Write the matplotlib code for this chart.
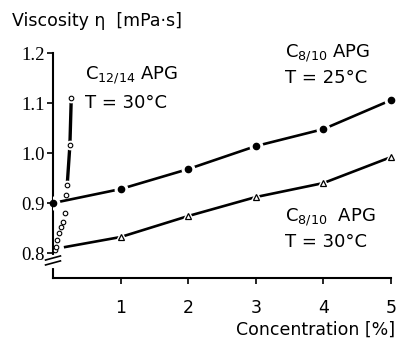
"""
Viskosität von APG-Lösungen in Abhängigkeit von der Konzentration
"""

import matplotlib.pyplot as plt

plt.rcParams['font.family'] = ['DejaVu Sans']
plt.rcParams['mathtext.fontset'] = 'dejavusans'

# C8/10 APG bei 25 °C (gefüllte Kreise)
konz_25 = [0, 1, 2, 3, 4, 5]
visk_25 = [0.900, 0.928, 0.968, 1.014, 1.048, 1.106]

# C8/10 APG bei 30 °C (offene Dreiecke), Kurve beginnt kurz nach 0
konz_30 = [1, 2, 3, 4, 5]
visk_30 = [0.832, 0.874, 0.912, 0.940, 0.992]
start_30 = (0.18, 0.812)

# C12/14 APG bei 30 °C (offene Kreise), sehr steiler Anstieg
konz_1214 = [0.03, 0.045, 0.06, 0.09, 0.12, 0.15, 0.18, 0.19, 0.21, 0.25, 0.27]
visk_1214 = [0.806, 0.812, 0.826, 0.840, 0.852, 0.862, 0.880, 0.916, 0.936, 1.016, 1.110]

x_ticks = [1, 2, 3, 4, 5]
y_ticks = [0.8, 0.9, 1.0, 1.1, 1.2]

fig = plt.figure(figsize=(4.0, 3.43), dpi=100)
ax = fig.add_axes([0.1325, 0.1895, 0.845, 0.6555])

# Kurven
ax.plot(konz_25, visk_25, color='black', linewidth=1.9, zorder=2)
ax.plot([start_30[0]] + konz_30, [start_30[1]] + visk_30,
        color='black', linewidth=1.9, zorder=2)
steil = [i for i, v in enumerate(visk_1214) if v >= 0.93]
ax.plot([konz_1214[i] for i in steil], [visk_1214[i] for i in steil],
        color='black', linewidth=2.4, zorder=2)

# weisser Hof um die Marker, damit die Linie unterbrochen wirkt
ax.plot(konz_25, visk_25, 'o', ms=9, color='white', zorder=3)
ax.plot(konz_30, visk_30, '^', ms=9, color='white', zorder=3, clip_on=False)
ax.plot(konz_1214[-3:], visk_1214[-3:], 'o', ms=6, color='white', zorder=3)

ax.plot(konz_25, visk_25, 'o', ms=4.5, color='black', zorder=4, clip_on=False)
ax.plot(konz_30, visk_30, '^', ms=5, mfc='white', mec='black', mew=0.9,
        zorder=4, clip_on=False)
ax.plot(konz_1214, visk_1214, 'o', ms=3.3, mfc='white', mec='black', mew=0.8,
        zorder=4, clip_on=False)

ax.set_xlim(0, 5)
ax.set_ylim(0.75, 1.2)
ax.set_xticks(x_ticks)
ax.set_yticks(y_ticks)
ax.set_yticklabels([f'{v:.1f}' for v in y_ticks], family='Liberation Serif', fontsize=13.5)
ax.set_xticklabels([str(v) for v in x_ticks], fontsize=12.5)
ax.tick_params(axis='both', direction='out', length=4, width=1.2, colors='black')
ax.tick_params(axis='x', pad=11)
ax.tick_params(axis='y', pad=2)

for s in ['top', 'right']:
    ax.spines[s].set_visible(False)
for s in ['left', 'bottom']:
    ax.spines[s].set_linewidth(1.5)

# Achsenbruch auf der y-Achse
ax.plot([0, 0], [0.055, 0.095], transform=ax.transAxes, color='white',
        linewidth=3, clip_on=False, zorder=5)
for y0 in [0.058, 0.080]:
    ax.plot([-0.022, 0.022], [y0, y0 + 0.018], transform=ax.transAxes,
            color='black', linewidth=1.2, clip_on=False, zorder=6)

# Beschriftungen
ax.text(0.47, 1.156, r'C$_{12/14}$ APG', fontsize=13, va='center')
ax.text(0.47, 1.100, 'T = 30°C', fontsize=13, va='center')
ax.text(3.43, 1.200, r'C$_{8/10}$ APG', fontsize=13, va='center')
ax.text(3.43, 1.150, 'T = 25°C', fontsize=13, va='center')
ax.text(3.43, 0.872, r'C$_{8/10}$  APG', fontsize=13, va='center')
ax.text(3.43, 0.822, 'T = 30°C', fontsize=13, va='center')

fig.text(12 / 400, 1 - 21 / 343, 'Viscosity η  [mPa·s]', fontsize=12.5, va='center')
fig.text(395 / 400, 1 - 330 / 343, 'Concentration [%]', fontsize=12.5,
         va='center', ha='right')

fig.savefig('out.png', dpi=100)
plt.close(fig)
